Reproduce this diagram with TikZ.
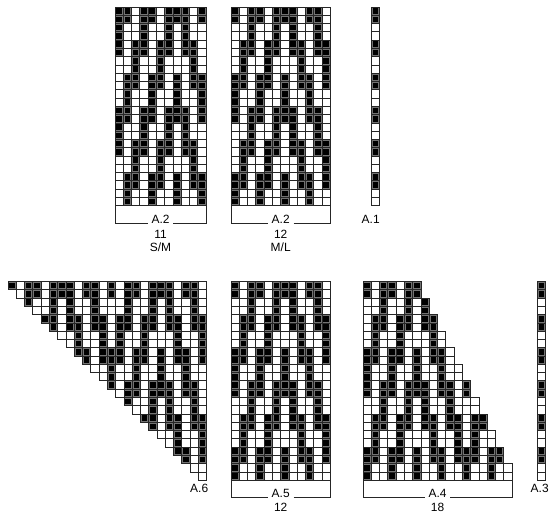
\documentclass[tikz,border=0pt]{standalone}
\usepackage{fontspec}
\setmainfont{Liberation Sans}
\newcommand\labfont{\fontsize{6.8}{8}\selectfont}
%%the 12 stitch motif, one line for each pair of rows
\def\motif{{1,0,1,1,0,1,1,1,0,1,1,0,
            0,0,1,0,0,1,0,1,0,0,1,0,
            0,1,1,0,1,1,0,1,1,0,1,1,
            0,1,0,0,1,0,0,0,1,0,0,1,
            1,1,0,1,1,0,1,0,1,1,0,1,
            1,0,0,1,0,0,1,0,0,1,0,0}}
%%one square of a chart: x, y, filled or not
\newcommand\knitcell[3]{%
    \ifnum#3=1
        \fill[black!55] (#1, #2) rectangle ++(8.28, 8.28);
        \fill[black] (#1+1.35, #2+1.35) rectangle ++(5.58, 5.58);
    \fi
    \draw[cell] (#1, #2) rectangle ++(8.28, 8.28);}
%%a chart of 24 rows: x, y, columns, kind (0 full, 1 shifted, 2 triangle, 3 steps, 4 one column)
\newcommand\knitchart[4]{%
    \foreach \rr in {1,...,24}{
        \foreach \cc in {1,...,#3}{
            \pgfmathtruncatemacro\pp{mod(floor((\rr-1)/2),6)}
            \pgfmathtruncatemacro\pc{#4==1 ? (\cc==1 ? 2 : \cc-2) : mod(\cc-1,12)}
            \pgfmathtruncatemacro\kk{12*\pp+\pc}
            \pgfmathtruncatemacro\vv{\motif[\kk]}
            \ifnum#4=4 \pgfmathtruncatemacro\vv{1-mod(\pp,2)}\fi
            \pgfmathtruncatemacro\vis{#4==2 ? (\cc>=\rr) : (#4==3 ? (\cc<=6+floor((\rr+1)/2)) : 1)}
            \ifnum\vis=1
                \pgfmathsetmacro\xx{#1+(\cc-1)*8.28}
                \pgfmathsetmacro\yy{#2+(\rr-1)*8.28}
                \knitcell{\xx}{\yy}{\vv}
            \fi
        }
    }}
\begin{document}
\begin{tikzpicture}[x=0.02cm, y=-0.02cm,
        cell/.style={draw=black!85, line width=0.45pt},
        bracket/.style={draw=black!85, line width=0.45pt},
        lab/.style={font=\labfont, inner sep=0pt, inner xsep=2pt}]
        \useasboundingbox (0, 0) rectangle (550, 515);

        %%draw the charts
        \knitchart{115}{7}{11}{1}
        \knitchart{231}{7}{12}{0}
        \knitchart{371.5}{7}{1}{4}
        \knitchart{8}{281.5}{24}{2}
        \knitchart{231}{281.5}{12}{0}
        \knitchart{363}{281.5}{18}{3}
        \knitchart{537.5}{281.5}{1}{4}

        %%labels of the top charts
        \node[lab, anchor=base] (a2sm) at(160.5, 223){A.2};
            \node[lab, anchor=base] (sts11) at(160.5, 238){11};
            \node[lab, anchor=base] (sizesm) at(160.5, 251.5){S/M};
        \node[lab, anchor=base] (a2ml) at(280.7, 223){A.2};
            \node[lab, anchor=base] (sts12a) at(280.7, 238){12};
            \node[lab, anchor=base] (sizeml) at(280.7, 251.5){M/L};
        \node[lab, anchor=base east, inner xsep=0pt] (a1) at(380, 223){A.1};

        %%labels of the bottom charts
        \node[lab, anchor=base east, inner xsep=0pt] (a6) at(208.5, 492){A.6};
        \node[lab, anchor=base] (a5) at(280.7, 497){A.5};
            \node[lab, anchor=base] (sts12b) at(280.7, 511){12};
        \node[lab, anchor=base] (a4) at(437.5, 497){A.4};
            \node[lab, anchor=base] (sts18) at(437.5, 511){18};
        \node[lab, anchor=base east, inner xsep=0pt] (a3) at(549, 492){A.3};

        %%draw the brackets
        \draw[bracket] (115, 205.7) |- (a2sm.base west);
        \draw[bracket] (a2sm.base east) -| (206.1, 205.7);
        \draw[bracket] (231, 205.7) |- (a2ml.base west);
        \draw[bracket] (a2ml.base east) -| (330.4, 205.7);
        \draw[bracket] (231, 480.2) |- (a5.base west);
        \draw[bracket] (a5.base east) -| (330.4, 480.2);
        \draw[bracket] (363, 480.2) |- (a4.base west);
        \draw[bracket] (a4.base east) -| (512, 480.2);

    \end{tikzpicture}
\end{document}
